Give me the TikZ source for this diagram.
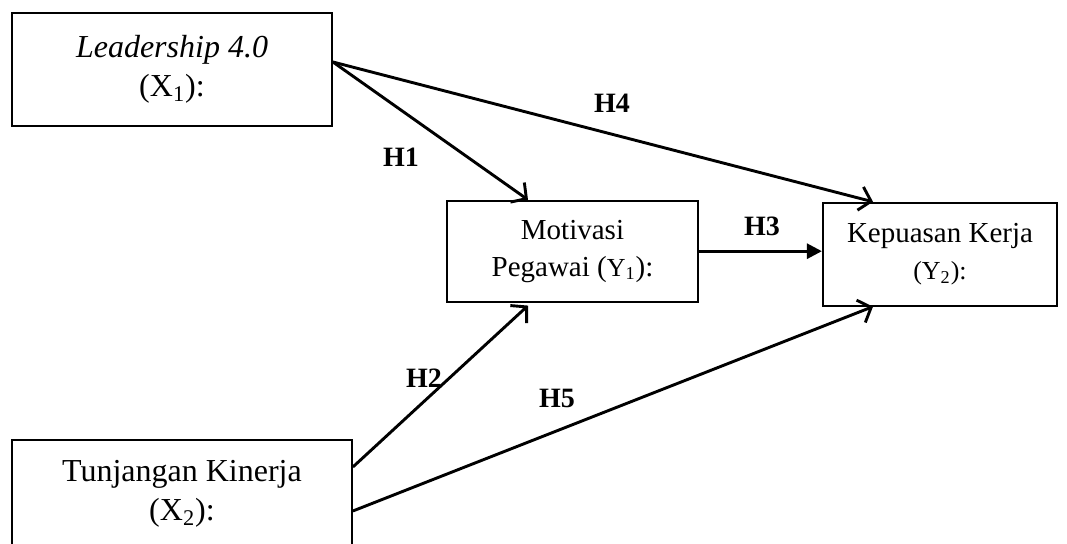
\documentclass[tikz,border=0pt]{standalone}
\usepackage{fontspec}
\setmainfont{Liberation Serif}
\usepackage{tikz}
\usetikzlibrary{positioning, calc}
\usetikzlibrary{arrows.meta}

\begin{document}
\begin{tikzpicture} [x=0.5pt, y=-0.5pt,
	varx/.style={draw, line width=0.9pt, align=center, font=\fontsize{16}{19.5}\selectfont},
	vary/.style={draw, line width=0.9pt, align=center, font=\fontsize{14.5}{18.5}\selectfont},
	hyp/.style={line width=1.45pt, -{Straight Barb[length=5.5pt,width=12pt,line width=1.45pt]}},
	hypfill/.style={line width=1.45pt, -{Triangle[length=7.5pt,width=7.5pt]}},
	hlabel/.style={font=\fontsize{14}{16}\selectfont\bfseries}]
	\useasboundingbox (0,0) rectangle (1067,544);
	\node [varx, minimum width=160pt, minimum height=56.5pt] (lead) at (172,69.3) {\textit{Leadership 4.0}\\(X\textsubscript{1}):};
	\node [varx, minimum width=170pt, minimum height=53.5pt] (tunj) at (182,493.5) {Tunjangan Kinerja\\(X\textsubscript{2}):};
	\node [vary, minimum width=125.2pt, minimum height=50.5pt] (motiv) at (572.5,251.2) {Motivasi\\Pegawai ({\fontsize{13}{15}\selectfont Y\textsubscript{1}}):};
	\node [vary, minimum width=117.2pt, minimum height=51.5pt] (kepuas) at (940,254.2) {Kepuasan Kerja\\{\fontsize{13}{15}\selectfont(Y\textsubscript{2}):}};
	\draw [hyp] ([yshift=3.65pt]lead.east) -- ([xshift=-22.25pt]motiv.north);
	\draw [hyp] ([yshift=3.65pt]lead.east) -- ([xshift=-33.5pt]kepuas.north);
	\draw [hypfill] (motiv.east) -- (motiv.east -| kepuas.west);
	\draw [hyp] ([yshift=13.25pt]tunj.east) -- ([xshift=-22.25pt,yshift=-1.5pt]motiv.south);
	\draw [hyp] ([yshift=-8.75pt]tunj.east) -- ([xshift=-33.5pt]kepuas.south);
	\node [hlabel] (h1) at (401,157) {H1};
	\node [hlabel] (h4) at (612,103) {H4};
	\node [hlabel] (h3) at (762,226) {H3};
	\node [hlabel] (h2) at (424,378) {H2};
	\node [hlabel] (h5) at (557,398) {H5};
\end{tikzpicture}
\end{document}
